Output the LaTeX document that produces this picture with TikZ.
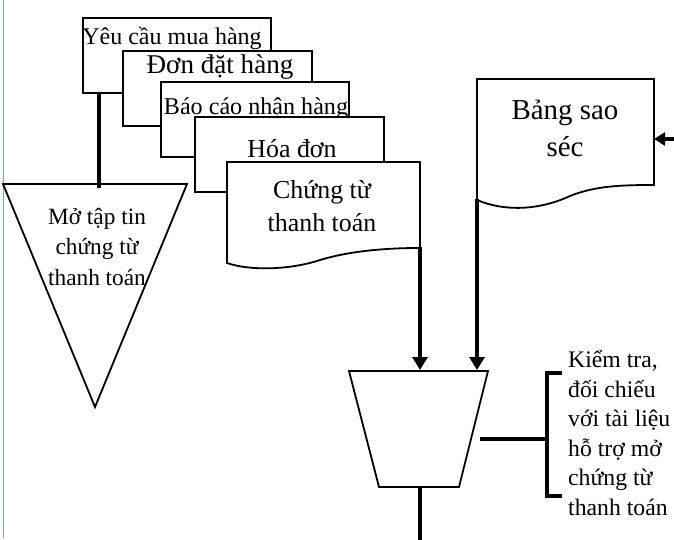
\documentclass[tikz,border=0pt]{standalone}
\usepackage{fontspec}
\setmainfont{Liberation Serif}
\usetikzlibrary{arrows.meta}
\begin{document}
\begin{tikzpicture}[x=1bp,y=-1bp,
  docbox/.style={draw=black,line width=1.8bp,fill=white,line join=miter},
  flow/.style={draw=black,line width=4bp},
  flowarrow/.style={flow,-{Triangle[length=13bp,width=15bp]}},
  lbl/.style={anchor=base,inner sep=0pt,align=center},
  margin/.style={draw={rgb,255:red,110;green,160;blue,215},line width=1bp}
]
\useasboundingbox (0,0) rectangle (674,540);
\draw[margin] (3,0) -- (3,538);

% stacked source documents (anchor=base sits on the last text line)
\draw[docbox] (83,18) rectangle (271,93);
\node[lbl,font=\fontsize{24.1}{28}\selectfont] (req) at (172,45) {Yêu cầu mua hàng};
\coordinate (reqB) at (99,93);
\draw[docbox] (123,51) rectangle (312,126);
\node[lbl,font=\fontsize{27.2}{30}\selectfont] (po) at (220,74) {Đơn đặt hàng};
\draw[docbox] (161,82) rectangle (349,157);
\node[lbl,font=\fontsize{24.2}{28}\selectfont] (rr) at (256,115) {Báo cáo nhận hàng};
\draw[docbox] (195,117) rectangle (384,192);
\node[lbl,font=\fontsize{26}{30}\selectfont] (inv) at (292,158) {Hóa đơn};

% payment voucher (document shape)
\draw[docbox] (227,162) -- (420,162) -- (420,248)
  .. controls (385,248) and (350,251) .. (320,260)
  .. controls (290,270) and (250,271) .. (227,263) -- cycle;
\node[lbl,font=\fontsize{26}{34}\selectfont] (pv) at (322,232) {Chứng từ\\thanh toán};
\coordinate (pvB) at (420,247);

% cheque copy (document shape)
\draw[docbox] (477,79) -- (654,79) -- (654,185)
  .. controls (620,185) and (595,186) .. (570,196)
  .. controls (540,210) and (505,212) .. (477,200) -- cycle;
\node[lbl,font=\fontsize{29}{38}\selectfont] (chq) at (565,157) {Bảng sao\\séc};
\coordinate (chqB) at (477,199);
\coordinate (chqIn) at (674,139);
\coordinate (chqR) at (654,139);

% open payment file (merge triangle)
\draw[docbox] (3,184) -- (187,184) -- (95,407) -- cycle;
\coordinate (triT) at (99,188);
\node[lbl,font=\fontsize{23.4}{30.5}\selectfont] (open) at (97,285) {Mở tập tin\\chứng từ\\thanh toán};

% manual check (trapezoid)
\draw[docbox] (349,371) -- (488,371) -- (459,487) -- (379,487) -- cycle;
\coordinate (chkL) at (420,370);
\coordinate (chkR) at (477,370);
\coordinate (chkB) at (420,487);
\coordinate (chkS) at (480,439);
\coordinate (out) at (420,540);

% connectors
\draw[flow] (reqB) -- (triT);
\draw[flowarrow] (pvB) -- (chkL);
\draw[flowarrow] (chqB) -- (chkR);
\draw[flow] (chkB) -- (out);
\draw[draw=black,line width=3.5bp,-{Triangle[length=11bp,width=13bp]}] (chqIn) -- (chqR);

% annotation bracket
\coordinate (brM) at (547,439);
\draw[draw=black,line width=3.5bp] (chkS) -- (brM);
\draw[draw=black,line width=3.5bp,line join=miter] (562,373) -- (547,373) -- (547,496) -- (562,496);
\node[lbl,align=left,anchor=base west,font=\fontsize{23.8}{29.6}\selectfont] (note) at (568,515)
  {Kiểm tra,\\đối chiếu\\với tài liệu\\hỗ trợ mở\\chứng từ\\thanh toán};
\end{tikzpicture}
\end{document}
